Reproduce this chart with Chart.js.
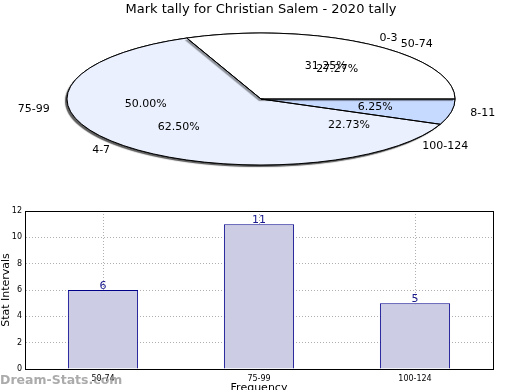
<!DOCTYPE html>
<html>
<head>
<meta charset="utf-8">
<script src="https://cdn.jsdelivr.net/npm/chart.js@4"></script>
<style>
  body { margin: 0; background: #fff; }
  #wrap { position: relative; width: 520px; height: 390px; }
  canvas { position: absolute; left: 0; }
</style>
</head>
<body>
<div id="wrap">
  <canvas id="pieB" width="520" height="195" style="top:0"></canvas>
  <canvas id="pieA" width="520" height="195" style="top:0"></canvas>
  <canvas id="bars" width="520" height="195" style="top:195px"></canvas>
</div>
<script>
// pie 1 : mark tally
const markLabels = ['0-3', '4-7', '8-11'];
const markValues = [5, 10, 1];
// pie 2 + bars : stat intervals
const statLabels = ['50-74', '75-99', '100-124'];
const statValues = [6, 11, 5];
const sliceColors = ['#ffffff', '#eaf0fe', '#c6d9fe'];
const yTicks = [0, 2, 4, 6, 8, 10, 12];

const FONT = 'DejaVu Sans';
const stretch = 194 / 66; // pie is drawn as an ellipse

Chart.defaults.font.family = FONT;
Chart.defaults.color = '#000';

// matplotlib goes counter clockwise from 3 o'clock, chart.js goes clockwise
const rev = a => a.slice().reverse();

const ellipsePie = {
    id: 'ellipsePie',
    beforeDatasetsDraw(chart) {
        const el = chart.getDatasetMeta(0).data[0];
        const ctx = chart.ctx;
        ctx.save();
        ctx.translate(el.x, el.y);
        ctx.scale(stretch, 1);
        ctx.translate(-el.x, -el.y);
        ctx.shadowColor = 'rgba(0,0,0,0.4)';
        ctx.shadowOffsetX = -2;
        ctx.shadowOffsetY = 2;
        ctx.shadowBlur = 1;
    },
    afterDatasetsDraw(chart) {
        const ctx = chart.ctx;
        ctx.restore();
        // outlines, drawn unscaled so lines stay 1px
        chart.getDatasetMeta(0).data.forEach(el => {
            const p = el.getProps(['x', 'y', 'startAngle', 'endAngle', 'outerRadius']);
            ctx.save();
            ctx.beginPath();
            ctx.moveTo(p.x, p.y);
            ctx.ellipse(p.x, p.y, p.outerRadius * stretch, p.outerRadius, 0, p.startAngle, p.endAngle, false);
            ctx.closePath();
            ctx.strokeStyle = '#000';
            ctx.lineWidth = 1;
            ctx.stroke();
            ctx.restore();
        });
    }
};

function drawPieLabels(chart, ctx) {
    const ds = chart.data.datasets[0];
    const total = ds.data.reduce((a, b) => a + b, 0);
    chart.getDatasetMeta(0).data.forEach((el, i) => {
        const p = el.getProps(['x', 'y', 'startAngle', 'endAngle', 'outerRadius']);
        const mid = (p.startAngle + p.endAngle) / 2;
        const rx = p.outerRadius * stretch, ry = p.outerRadius;
        ctx.save();
        ctx.font = '11px ' + FONT;
        ctx.fillStyle = '#000';
        ctx.textBaseline = 'middle';
        ctx.textAlign = Math.cos(mid) > 0 ? 'left' : 'right';
        ctx.fillText(chart.data.labels[i], p.x + 1.1 * rx * Math.cos(mid), p.y + 1.1 * ry * Math.sin(mid));
        ctx.textAlign = 'center';
        ctx.fillText((ds.data[i] / total * 100).toFixed(2) + '%', p.x + 0.6 * rx * Math.cos(mid), p.y + 0.6 * ry * Math.sin(mid));
        ctx.restore();
    });
}

function pieOptions(titleColor) {
    return {
        responsive: false,
        animation: false,
        rotation: 90,
        layout: { padding: { top: 0, bottom: 30, left: 2, right: 0 } },
        plugins: {
            legend: { display: false },
            tooltip: { enabled: false },
            title: {
                display: true,
                text: 'Mark tally for Christian Salem - 2020 tally',
                color: titleColor,
                font: { size: 13, weight: 'normal' },
                padding: { top: 2, bottom: 15.4 }
            }
        }
    };
}

function pieDataset(values) {
    return {
        data: rev(values),
        backgroundColor: rev(sliceColors),
        borderWidth: 0,
        hoverBorderWidth: 0,
        hoverOffset: 0,
        clip: false
    };
}

const pieB = new Chart(document.getElementById('pieB'), {
    type: 'pie',
    data: { labels: rev(statLabels), datasets: [pieDataset(statValues)] },
    options: pieOptions('#000'),
    plugins: [ellipsePie]
});

const pieA = new Chart(document.getElementById('pieA'), {
    type: 'pie',
    data: { labels: rev(markLabels), datasets: [pieDataset(markValues)] },
    options: pieOptions('rgba(0,0,0,0)'),
    plugins: [ellipsePie, {
        id: 'pieText',
        afterDraw(chart) {
            drawPieLabels(pieB, chart.ctx);
            drawPieLabels(chart, chart.ctx);
        }
    }]
});

const barExtras = {
    id: 'barExtras',
    afterDatasetsDraw(chart) {
        const ctx = chart.ctx;
        const a = chart.chartArea;
        ctx.save();
        ctx.strokeStyle = '#000';
        ctx.lineWidth = 1;
        ctx.strokeRect(a.left + 0.5, a.top + 0.5, a.right - a.left, a.bottom - a.top);
        ctx.font = '11px ' + FONT;
        ctx.fillStyle = '#1a1a8c';
        ctx.textAlign = 'center';
        ctx.textBaseline = 'alphabetic';
        chart.getDatasetMeta(0).data.forEach((el, i) => {
            ctx.fillText(String(statValues[i]), el.x, el.y - 1);
        });
        // site watermark
        ctx.font = 'bold 12.5px ' + FONT;
        ctx.fillStyle = 'rgba(150,150,150,0.8)';
        ctx.textAlign = 'left';
        ctx.textBaseline = 'middle';
        ctx.fillText('Dream-Stats.com', 0, 186);
        ctx.restore();
    }
};

new Chart(document.getElementById('bars'), {
    type: 'bar',
    data: {
        labels: statLabels,
        datasets: [{
            data: statValues,
            backgroundColor: '#ccccE5',
            borderColor: '#00008b',
            borderWidth: 1,
            categoryPercentage: 1,
            barPercentage: 0.45
        }]
    },
    options: {
        responsive: false,
        animation: false,
        layout: { padding: { top: 16, right: 27, left: 0, bottom: 0 } },
        plugins: { legend: { display: false }, tooltip: { enabled: false } },
        scales: {
            x: {
                afterFit: s => { s.height = 21; },
                grid: { offset: false, color: '#b0b0b0', drawTicks: false },
                border: { color: '#000', dash: [1, 2] },
                ticks: { font: { size: 8 }, padding: 5, color: '#000' },
                title: { display: true, text: 'Frequency', font: { size: 11 }, padding: { top: 4, bottom: -5 } }
            },
            y: {
                min: 0,
                max: 12,
                afterFit: s => { s.width = 25; },
                afterBuildTicks: s => { s.ticks = yTicks.map(v => ({ value: v })); },
                grid: { color: '#b0b0b0', drawTicks: false },
                border: { color: '#000', dash: [1, 2] },
                ticks: { font: { size: 8 }, padding: 3, color: '#000' },
                title: { display: true, text: 'Stat Intervals', font: { size: 11 }, padding: 0 }
            }
        }
    },
    plugins: [barExtras]
});
</script>
</body>
</html>
